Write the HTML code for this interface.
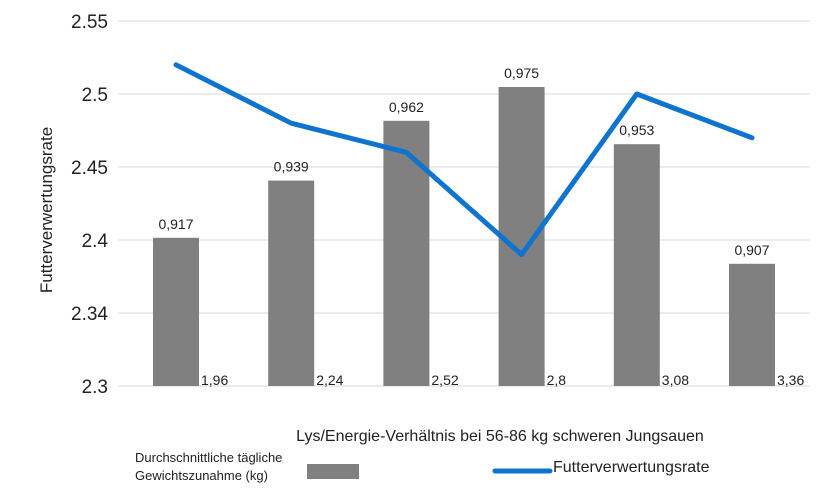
<!DOCTYPE html>
<html><head><meta charset="utf-8"><style>
html,body{margin:0;padding:0;background:#fff;}
svg{display:block;font-family:"Liberation Sans",Arial,sans-serif;}
</style></head><body>
<svg id="chart" width="820" height="499" viewBox="0 0 820 499">
<g id="grid"></g><g id="bars"></g><g id="line"></g><g id="labels"></g>
<text x="52" y="210" font-size="17" fill="#222" transform="rotate(-90 52 210)" text-anchor="middle">Futterverwertungsrate</text>
<text x="500" y="441" font-size="16" fill="#222" text-anchor="middle">Lys/Energie-Verhältnis bei 56-86 kg schweren Jungsauen</text>
<g>
<text x="135" y="462" font-size="13" fill="#222">Durchschnittliche tägliche</text>
<text x="135" y="480" font-size="13" fill="#222">Gewichtszunahme (kg)</text>
<rect x="307" y="464" width="52" height="15" fill="#808080"/>
<line x1="495" y1="471" x2="550" y2="471" stroke="#0e74d0" stroke-width="5" stroke-linecap="round"/>
<text x="553" y="472" font-size="16" fill="#222">Futterverwertungsrate</text>
</g>
</svg>
<script>
const categories=["1,96","2,24","2,52","2,8","3,08","3,36"];
const barValues=[0.917,0.939,0.962,0.975,0.953,0.907];
const barLabels=["0,917","0,939","0,962","0,975","0,953","0,907"];
const lineValues=[2.52,2.48,2.46,2.39,2.5,2.47];
const yTicks=[2.3,2.35,2.4,2.45,2.5,2.55];
const yTickLabels=["2.3","2.34","2.4","2.45","2.5","2.55"];
const NS="http://www.w3.org/2000/svg";
function mk(t,a,p,txt){const e=document.createElementNS(NS,t);for(const k in a)e.setAttribute(k,a[k]);if(txt!==undefined)e.textContent=txt;p.appendChild(e);return e;}
const yL=v=>386-(v-2.3)*1460;
const yB=v=>386-(v-0.86)*2600;
const xC=i=>176+i*115.2;
const grid=document.getElementById('grid'),bars=document.getElementById('bars'),line=document.getElementById('line'),labels=document.getElementById('labels');
yTicks.forEach((v,i)=>{
 const l=mk('line',{x1:118,x2:810,y1:yL(v),y2:yL(v),stroke:'#d9d9d9','stroke-width':1},grid);
 
 
 const t=mk('text',{x:108,y:yL(v)+7,'font-size':19,fill:'#222','text-anchor':'end'},grid,yTickLabels[i]);
 
 
});
barValues.forEach((v,i)=>{
 const r=mk('rect',{x:xC(i)-23,y:yB(v),width:46,height:386-yB(v),fill:'#808080'},bars);
 
 
 const t=mk('text',{x:xC(i),y:yB(v)-9,'font-size':14,fill:'#222','text-anchor':'middle'},labels,barLabels[i]);
 
 
 const c=mk('text',{x:xC(i)+25,y:385,'font-size':14,fill:'#222'},labels,categories[i]);
 
 
});
const pl=mk('polyline',{points:lineValues.map((v,i)=>xC(i)+','+yL(v)).join(' '),fill:'none',stroke:'#0e74d0','stroke-width':5,'stroke-linejoin':'round','stroke-linecap':'round'},line);


</script>
</body></html>
